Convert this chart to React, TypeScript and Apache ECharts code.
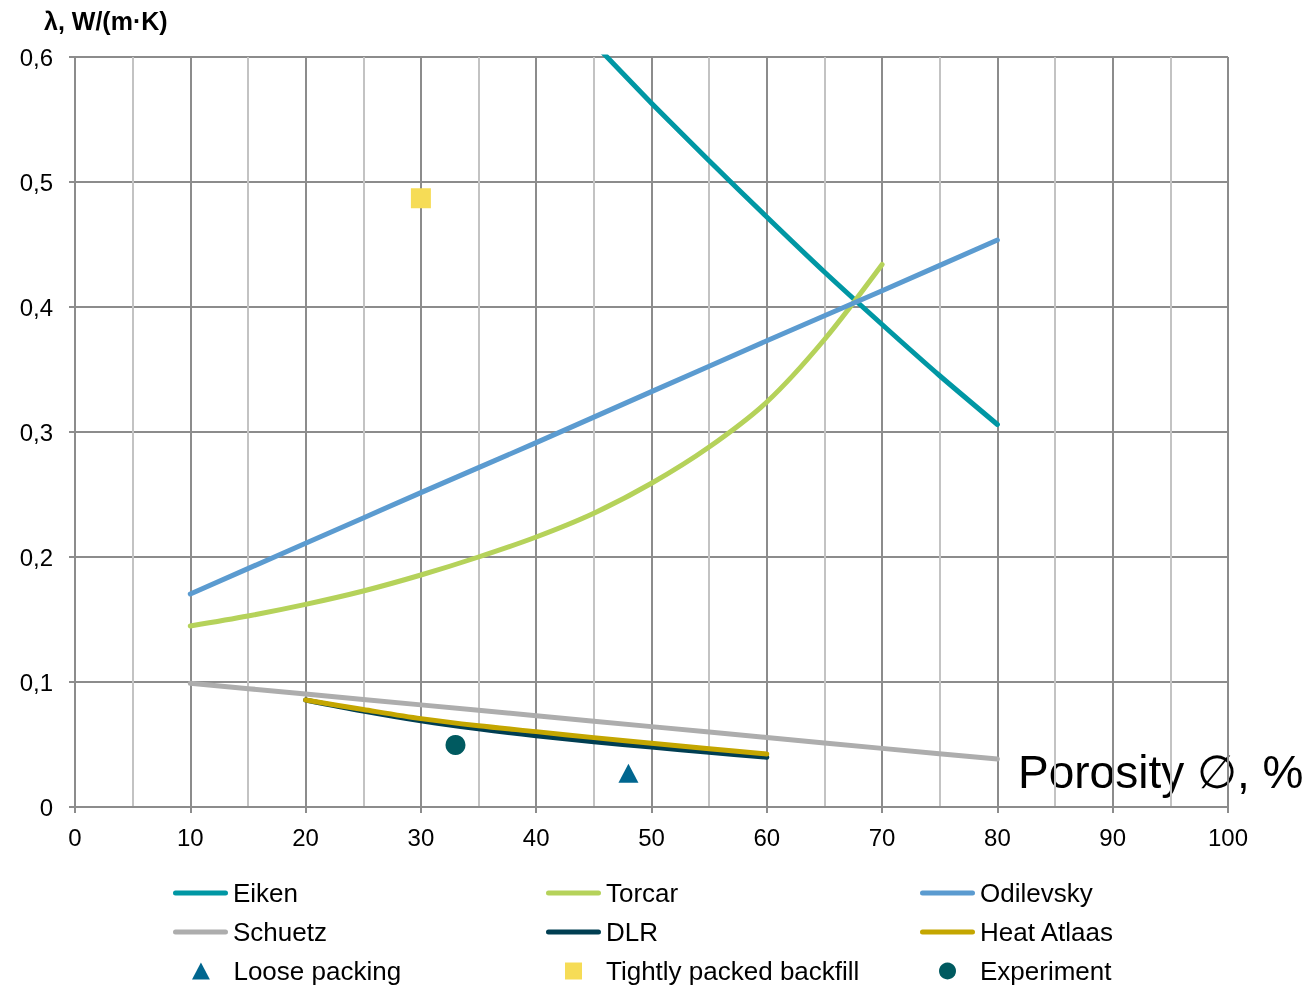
import React, { useEffect, useRef } from "react";
import * as echarts from "echarts";

const xEiken = [40, 45, 50, 55, 60, 65, 70, 75, 80];
const eiken = [0.66, 0.611, 0.563, 0.517, 0.472, 0.428, 0.386, 0.345, 0.306];

const xTorcar = [10, 15, 20, 25, 30, 35, 40, 45, 50, 55, 60, 65, 70];
const torcar = [0.1448, 0.1528, 0.1621, 0.1728, 0.1856, 0.2, 0.216, 0.235, 0.259, 0.288, 0.324, 0.374, 0.434];

const xOdilevsky = [10, 20, 30, 40, 50, 60, 70, 80];
const odilevsky = [0.1704, 0.211, 0.2515, 0.2915, 0.3323, 0.373, 0.413, 0.4536];

const xSchuetz = [10, 20, 30, 40, 50, 60, 70, 80];
const schuetz = [0.099, 0.0904, 0.0817, 0.073, 0.0643, 0.0556, 0.0469, 0.0384];

const xDLR = [20, 25, 30, 35, 40, 45, 50, 55, 60];
const dlr = [0.0856, 0.0768, 0.069, 0.0625, 0.057, 0.0522, 0.048, 0.0437, 0.0398];

const xHeat = [20, 25, 30, 35, 40, 45, 50, 55, 60];
const heatAtlaas = [0.0856, 0.078, 0.0707, 0.065, 0.0603, 0.0555, 0.051, 0.0466, 0.0424];

const loosePacking = [[48, 0.027]];
const tightlyPacked = [[30, 0.487]];
const experiment = [[33, 0.0496]];

const legendRows = [
  ["Eiken", "Torcar", "Odilevsky"],
  ["Schuetz", "DLR", "Heat Atlaas"],
  ["Loose packing", "Tightly packed backfill", "Experiment"],
];

const FONT = "'Liberation Sans', Arial, sans-serif";
const MAJOR = "#8c8c8c";
const MINOR = "#c3c3c3";

const zip = (xs: number[], ys: number[]) => xs.map((x, i) => [x, ys[i]]);

const TRI = "path://M5,0L10,9.5L0,9.5Z";
const SQR = "path://M0,0H10V10H0Z";
const BAR = "path://M2.5,0H52.5A2.5,2.5,0,0,1,52.5,5H2.5A2.5,2.5,0,0,1,2.5,0Z";

export default function App() {
  const ref = useRef<HTMLDivElement>(null);
  useEffect(() => {
    if (!ref.current) return;
    const chart = echarts.init(ref.current, null, { renderer: "svg" });
    const lineSeries = (name: string, xs: number[], ys: number[], color: string, smooth: boolean | number) => ({
      name,
      type: "line",
      data: zip(xs, ys),
      symbol: "none",
      smooth,
      clip: true,
      lineStyle: { color, width: 5, cap: "round", join: "round" },
      itemStyle: { color },
    });
    const colLeft = [173, 546, 920];
    const markerColLeft = [192, 565, 939];
    const rowCenter = [892, 931, 970];
    const iconFor = (name: string) =>
      name === "Loose packing" ? TRI : name === "Tightly packed backfill" ? SQR : name === "Experiment" ? "circle" : BAR;
    const legends: any[] = [];
    legendRows.forEach((row, r) =>
      row.forEach((name, c) => {
        legends.push({
          orient: "horizontal",
          left: r === 2 ? markerColLeft[c] : colLeft[c],
          top: rowCenter[r] - 12,
          itemWidth: 55,
          itemHeight: r === 2 ? 17 : 16,
          padding: 0,
          selectedMode: false,
          textStyle: { fontSize: 26, color: "#000", fontFamily: FONT, lineHeight: 24 },
          data: [{ name, icon: iconFor(name) }],
        });
      })
    );
    chart.setOption({
      animation: false,
      textStyle: { fontFamily: FONT },
      grid: { left: 75, right: 79, top: 57, bottom: 178, containLabel: false },
      xAxis: {
        type: "value",
        min: 0,
        max: 100,
        interval: 10,
        axisLine: { show: true, lineStyle: { color: MAJOR, width: 2 } },
        axisTick: { show: true, length: 6, lineStyle: { color: MAJOR, width: 2 } },
        axisLabel: { fontSize: 24, color: "#000", margin: 18, fontFamily: FONT },
        splitLine: { show: true, lineStyle: { color: MAJOR, width: 2 } },
        minorTick: { show: false, splitNumber: 2 },
        minorSplitLine: { show: true, lineStyle: { color: MINOR, width: 2 } },
      },
      yAxis: {
        type: "value",
        min: 0,
        max: 0.6,
        interval: 0.1,
        axisLine: { show: true, lineStyle: { color: MAJOR, width: 2 } },
        axisTick: { show: true, length: 6, lineStyle: { color: MAJOR, width: 2 } },
        axisLabel: {
          fontSize: 24,
          color: "#000",
          margin: 22,
          fontFamily: FONT,
          formatter: (v: number) => (Math.round(v * 10) / 10).toString().replace(".", ","),
        },
        splitLine: { show: true, lineStyle: { color: MAJOR, width: 2 } },
      },
      legend: legends,
      graphic: [
        {
          type: "text",
          left: 44,
          top: 8,
          style: { text: "λ, W/(m·K)", font: `bold 25px ${FONT}`, fill: "#000" },
        },
        {
          type: "text",
          x: 1018,
          y: 772,
          style: { text: "Porosity ∅, %", font: `46px ${FONT}`, fill: "#000", verticalAlign: "middle", align: "left" },
        },
      ],
      series: [
        lineSeries("Eiken", xEiken, eiken, "#0097a4", 0.2),
        lineSeries("Torcar", xTorcar, torcar, "#b5d25a", 0.3),
        lineSeries("Odilevsky", xOdilevsky, odilevsky, "#5b9bd0", 0.1),
        lineSeries("Schuetz", xSchuetz, schuetz, "#adadad", 0.1),
        lineSeries("DLR", xDLR, dlr, "#003e52", 0.3),
        lineSeries("Heat Atlaas", xHeat, heatAtlaas, "#c4a600", 0.3),
        {
          name: "Loose packing",
          type: "scatter",
          data: loosePacking,
          symbol: "triangle",
          symbolSize: [20, 19],
          itemStyle: { color: "#00668f", opacity: 1 },
        },
        {
          name: "Tightly packed backfill",
          type: "scatter",
          data: tightlyPacked,
          symbol: "rect",
          symbolSize: 20,
          itemStyle: { color: "#f6dc56", opacity: 1 },
        },
        {
          name: "Experiment",
          type: "scatter",
          data: experiment,
          symbol: "circle",
          symbolSize: 20,
          itemStyle: { color: "#005a60", opacity: 1 },
        },
      ],
    });
    return () => chart.dispose();
  }, []);
  return <div ref={ref} style={{ position: "fixed", left: 0, top: 0, width: 1307, height: 985 }} />;
}
